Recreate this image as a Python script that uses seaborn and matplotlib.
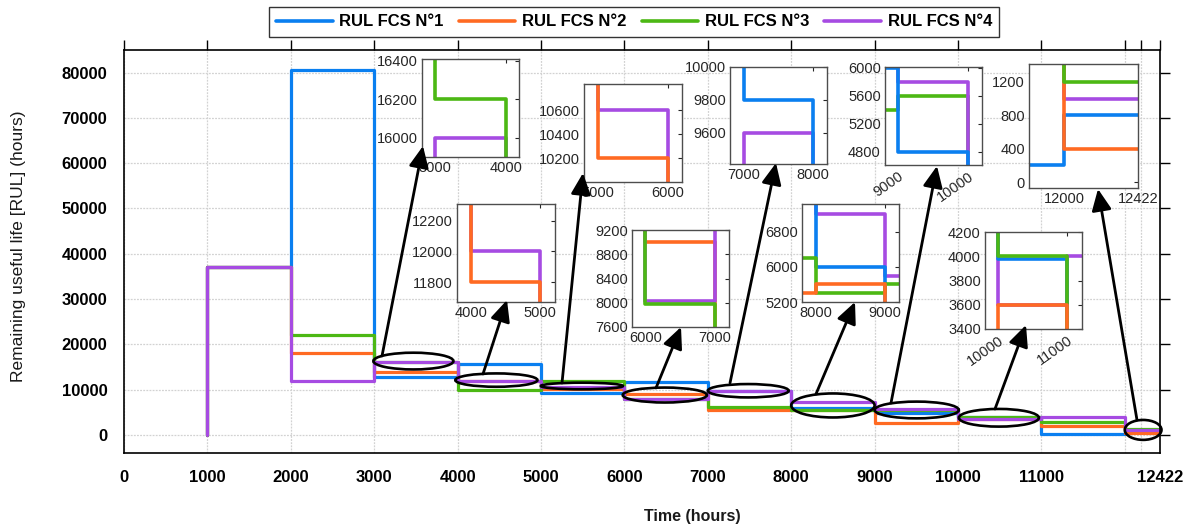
import numpy as np
import pandas as pd
import matplotlib
matplotlib.use("Agg")
import matplotlib.pyplot as plt
import seaborn as sns
from matplotlib.patches import Ellipse, FancyArrowPatch, ArrowStyle

# ---------------- data ----------------
interval_starts = [1000, 2000, 3000, 4000, 5000, 6000, 7000, 8000, 9000, 10000, 11000, 12000]
interval_end = 12422
start_rul = 0
rul_fcs1 = [37000, 80500, 12700, 15600, 9200, 11700, 9800, 6000, 4800, 3980, 200, 800]
rul_fcs2 = [37000, 18000, 13900, 11800, 10200, 9000, 5400, 5600, 2700, 3600, 2000, 400]
rul_fcs3 = [37000, 22000, 16200, 10000, 12000, 7980, 6200, 5400, 5600, 4000, 2900, 1200]
rul_fcs4 = [37000, 12000, 16000, 12000, 10600, 8030, 9600, 7200, 5800, 3600, 4000, 1000]
series_names = ["RUL FCS N°1", "RUL FCS N°2", "RUL FCS N°3", "RUL FCS N°4"]
series_colors = ["#0A7FF0", "#FF6A22", "#4CB814", "#A64BE2"]

x_ticks = [0, 1000, 2000, 3000, 4000, 5000, 6000, 7000, 8000, 9000, 10000, 11000, 12000, 12200, 12422]
x_ticklabels = ["0", "1000", "2000", "3000", "4000", "5000", "6000", "7000", "8000",
                "9000", "10000", "11000", "", "", "12422"]
y_ticks = [0, 10000, 20000, 30000, 40000, 50000, 60000, 70000, 80000]


def step_vertices(starts, end, values, first):
    edges = list(starts) + [end]
    xs, ys = [edges[0]], [first]
    for i, v in enumerate(values):
        xs += [edges[i], edges[i + 1]]
        ys += [v, v]
    return xs, ys


frames = []
for name, vals in zip(series_names, [rul_fcs1, rul_fcs2, rul_fcs3, rul_fcs4]):
    xs, ys = step_vertices(interval_starts, interval_end, vals, start_rul)
    frames.append(pd.DataFrame({"Time": xs, "RUL": ys, "Series": name}))
df = pd.concat(frames, ignore_index=True)
palette = dict(zip(series_names, series_colors))

# ---------------- style ----------------
sns.set_style("white")
plt.rcParams["font.family"] = ["Liberation Sans", "DejaVu Sans"]

W, H = 1190, 530
fig = plt.figure(figsize=(W / 100, H / 100), dpi=100)


def px_rect(l, t, r, b):
    return [l / W, 1 - b / H, (r - l) / W, (b - t) / H]


ax = fig.add_axes(px_rect(124, 50, 1160, 453))
sns.lineplot(data=df, x="Time", y="RUL", hue="Series", hue_order=series_names,
             palette=palette, sort=False, estimator=None, linewidth=2.3, ax=ax)
ax.set_xlim(0, 12422)
ax.set_ylim(-4000, 85000)
ax.set_xticks(x_ticks)
ax.set_xticklabels(x_ticklabels)
ax.set_yticks(y_ticks)
ax.tick_params(direction="out", length=7, width=1, top=True, right=True,
               labelsize=12, pad=5, colors="black")
for lab in ax.get_xticklabels() + ax.get_yticklabels():
    lab.set_fontweight("bold")
for s in ax.spines.values():
    s.set_color("black")
    s.set_linewidth(1.2)
ax.grid(True, color="#d2d2d2", linestyle=(0, (1.5, 1)), linewidth=0.9)
ax.set_axisbelow(True)
ax.set_xlabel("Time (hours)", fontsize=11.5, fontweight="bold", color="#1a1a1a")
ax.xaxis.set_label_coords((692 - 124) / 1036, -(509 - 453) / 403)
ax.set_ylabel("Remaining useful life [RUL] (hours)", fontsize=12.5, color="#1a1a1a")
ax.yaxis.set_label_coords(-(124 - 26) / 1036, (453 - 246) / 403)

sns.move_legend(ax, "center", bbox_to_anchor=((634 - 124) / 1036, 1 + 28 / 403),
                ncol=4, title=None, frameon=True, fontsize=12,
                handlelength=3.4, handletextpad=0.4, columnspacing=0.9,
                borderpad=0.45, fancybox=False)
leg = ax.get_legend()
leg.get_frame().set_edgecolor("black")
leg.get_frame().set_linewidth(1.0)
for t in leg.get_texts():
    t.set_fontweight("bold")
    t.set_color("black")
for l in leg.get_lines():
    l.set_linewidth(2.6)

# ---------------- ellipses (data coords) ----------------
ellipses = [
    (3470, 16300, 960, 3700),
    (4465, 12100, 985, 2950),
    (5490, 10800, 985, 1450),
    (6485, 8800, 1010, 3300),
    (7485, 9750, 970, 2950),
    (8500, 6500, 1000, 5300),
    (9505, 5500, 1010, 3700),
    (10490, 3780, 960, 3900),
    (12220, 1100, 440, 4400),
]
for xc, yc, w, h in ellipses:
    ax.add_patch(Ellipse((xc, yc), w, h, fill=False, edgecolor="black",
                         linewidth=1.9, zorder=10, clip_on=False))

# ---------------- insets (each shows only the series inside its ellipse) ----------------
S1, S2, S3, S4 = series_names
insets = [
    ((422, 59, 519, 157), (2820, 4180), (15900, 16410), [3000, 4000], [16000, 16200, 16400], 0, [S4, S3]),
    ((457, 204, 555, 302), (3800, 5220), (11670, 12310), [4000, 5000], [11800, 12000, 12200], 0, [S4, S2]),
    ((584, 84, 682, 182), (4800, 6200), (10000, 10820), [5000, 6000], [10200, 10400, 10600], 0, [S4, S2]),
    ((632, 230, 729, 327), (5810, 7200), (7600, 9200), [6000, 7000], [7600, 8000, 8400, 8800, 9200], 0, [S2, S4, S3]),
    ((730, 67, 827, 164), (6800, 8200), (9410, 10000), [7000, 8000], [9600, 9800, 10000], 0, [S4, S1]),
    ((802, 204, 899, 302), (7800, 9200), (5200, 7430), [8000, 9000], [5200, 6000, 6800], 0, [S4, S1, S3, S2]),
    ((885, 67, 982, 165), (8810, 10200), (4610, 6010), [9000, 10000], [4800, 5200, 5600, 6000], 35, [S3, S4, S1]),
    ((985, 232, 1082, 329), (9810, 11220), (3400, 4200), [10000, 11000], [3400, 3600, 3800, 4000, 4200], 35, [S4, S1, S3, S2]),
    ((1029, 64, 1138, 188), (11800, 12422), (-70, 1415), [12000, 12422], [0, 400, 800, 1200], 0, [S4, S1, S2, S3]),
]
for rect, xl, yl, xt, yt, rot, shown in insets:
    ia = fig.add_axes(px_rect(*rect))
    ia.set_facecolor("white")
    sub = df[df["Series"].isin(shown)]
    sns.lineplot(data=sub, x="Time", y="RUL", hue="Series", hue_order=shown,
                 palette=palette, sort=False, estimator=None, linewidth=2.6,
                 ax=ia, legend=False)
    ia.set_xlim(*xl)
    ia.set_ylim(*yl)
    ia.set_xticks(xt)
    ia.set_yticks(yt)
    ia.set_xlabel("")
    ia.set_ylabel("")
    ia.tick_params(direction="in", length=3, width=0.8, top=True, right=True,
                   labelsize=10.5, colors="#262626", pad=3)
    if rot:
        for lab in ia.get_xticklabels():
            lab.set_rotation(rot)
            lab.set_ha("right")
            lab.set_rotation_mode("anchor")
    for s in ia.spines.values():
        s.set_color("#4d4d4d")
        s.set_linewidth(1.0)

# ---------------- arrows (figure pixels) ----------------
arrows = [
    ((382, 356), (423, 146)),
    ((483, 374), (507, 300)),
    ((562, 383), (583, 173)),
    ((656, 388), (681, 327)),
    ((730, 383), (776, 163)),
    ((816, 394), (855, 302)),
    ((891, 403), (937, 166)),
    ((995, 409), (1026, 325)),
    ((1137, 420), (1098, 189)),
]
style = ArrowStyle("-|>", head_length=0.65, head_width=0.3)
for (x0, y0), (x1, y1) in arrows:
    fig.add_artist(FancyArrowPatch((x0 / W, 1 - y0 / H), (x1 / W, 1 - y1 / H),
                                   transform=fig.transFigure, arrowstyle=style,
                                   mutation_scale=20, color="black", linewidth=2.0,
                                   shrinkA=0, shrinkB=0, zorder=20))

fig.savefig("out.png", dpi=100)
